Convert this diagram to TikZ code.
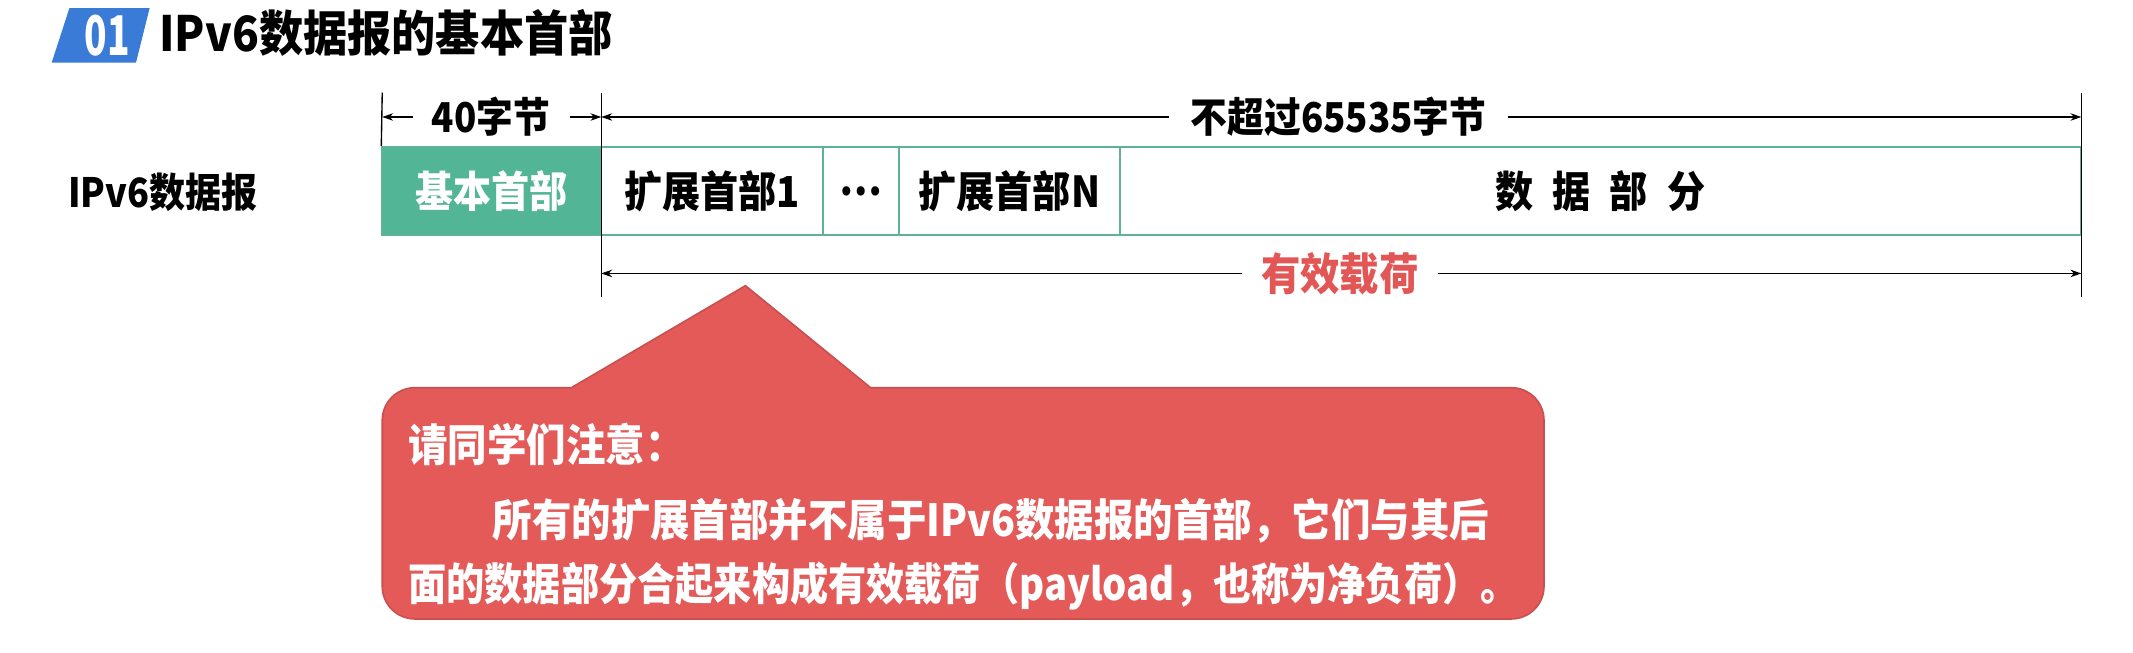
\documentclass[tikz,border=0pt]{standalone}
\usepackage{fontspec}
\setmainfont{Noto Sans CJK SC}
\usetikzlibrary{arrows.meta}
\definecolor{tealfill}{HTML}{52B596}
\definecolor{tealline}{HTML}{5DB298}
\definecolor{calloutred}{HTML}{E35A59}
\definecolor{calloutedge}{HTML}{C9504F}
\definecolor{payred}{HTML}{E25656}
\definecolor{titleblue}{HTML}{3A7BD8}
\newcommand{\tall}[1]{\scalebox{1}[1.12]{#1}}
\tikzset{
  x=1pt, y=-1pt,
  txt/.style={font=\bfseries\fontsize{27}{30}\selectfont, inner sep=0pt},
  cell/.style={draw=tealline, line width=1.4pt, minimum height=65pt, inner sep=0pt, font=\bfseries\fontsize{28}{30}\selectfont},
  dim/.style={line width=1pt, -{Stealth[length=8pt,width=5.5pt]}},
  tick/.style={line width=1pt},
  note/.style={font=\bfseries\fontsize{29}{32}\selectfont, text=white, anchor=west, inner sep=0pt},
}
\begin{document}
\begin{tikzpicture}
\useasboundingbox (0,0) rectangle (1568,480);
% title
\fill[titleblue] (51,6) -- (110,6) -- (100,46) -- (38,46) -- cycle;
\node[text=white, font=\bfseries\fontsize{35}{36}\selectfont, inner sep=0pt] (num) at (79,26) {\scalebox{0.78}[1.15]{01}};
\node[font=\bfseries\fontsize{32.5}{34}\selectfont, anchor=west, inner sep=0pt] (title) at (117,24) {\scalebox{1}[1.1]{IPv6数据报的基本首部}};
% label
\node[txt, anchor=west, font=\bfseries\fontsize{26.5}{28}\selectfont] (lbl) at (50,141) {\tall{IPv6数据报}};
% cells
\node[cell, fill=tealfill, text=white, minimum width=161pt] (base) at (361.5,140.5) {\tall{基本首部}};
\node[cell, minimum width=163pt] (ext1) at (523.5,140.5) {\tall{扩展首部1}};
\node[cell, minimum width=56pt] (dots) at (633,140.5) {\tall{…}};
\node[cell, minimum width=162pt] (extN) at (742,140.5) {\tall{扩展首部N}};
\node[cell, minimum width=707pt] (data) at (1176.5,140.5) {\tall{数\hspace{0.5em}据\hspace{0.5em}部\hspace{0.5em}分}};
% ticks
\coordinate (tl0) at (281,68);
\coordinate (tm0) at (442,68);
\coordinate (tm1) at (442,218);
\coordinate (tr0) at (1530,68);
\coordinate (tr1) at (1530,218);
\draw[tick] (tl0) -- (base.north west);
\draw[tick] (tm0) -- (tm1);
\draw[tick] (tr0) -- (tr1);
% dimension labels
\node[txt] (t40) at (361,86) {\tall{40字节}};
\node[txt] (tmax) at (984,86) {\tall{不超过65535字节}};
\node[txt, text=payred, font=\bfseries\fontsize{29}{32}\selectfont] (tpay) at (985,201) {\tall{有效载荷}};
\coordinate (a40l) at (281,86);
\coordinate (a40r) at (442,86);
\coordinate (amaxl) at (442,86);
\coordinate (amaxr) at (1530,86);
\coordinate (apayl) at (442,201);
\coordinate (apayr) at (1530,201);
\draw[dim] ([xshift=-14pt]t40.west) -- (a40l);
\draw[dim] ([xshift=14pt]t40.east) -- (a40r);
\draw[dim] ([xshift=-16pt]tmax.west) -- (amaxl);
\draw[dim] ([xshift=16pt]tmax.east) -- (amaxr);
\draw[dim] ([xshift=-14pt]tpay.west) -- (apayl);
\draw[dim] ([xshift=14pt]tpay.east) -- (apayr);
% callout
\draw[fill=calloutred, draw=calloutedge, line width=1.2pt]
  (420,285) -- (548,210) -- (640,285) [rounded corners=24pt] -- (1135,285) -- (1135,455) -- (281,455) -- (281,285) [sharp corners] -- cycle;
\node[note] (c1) at (300,327) {\tall{请同学们注意：}};
\node[note] (c2) at (362,383) {\tall{所有的扩展首部并不属于IPv6数据报的首部，它们与其后}};
\node[note] (c3) at (300,431) {\scalebox{0.968}[1.12]{面的数据部分合起来构成有效载荷（payload，也称为净负荷）。}};
\end{tikzpicture}
\end{document}
